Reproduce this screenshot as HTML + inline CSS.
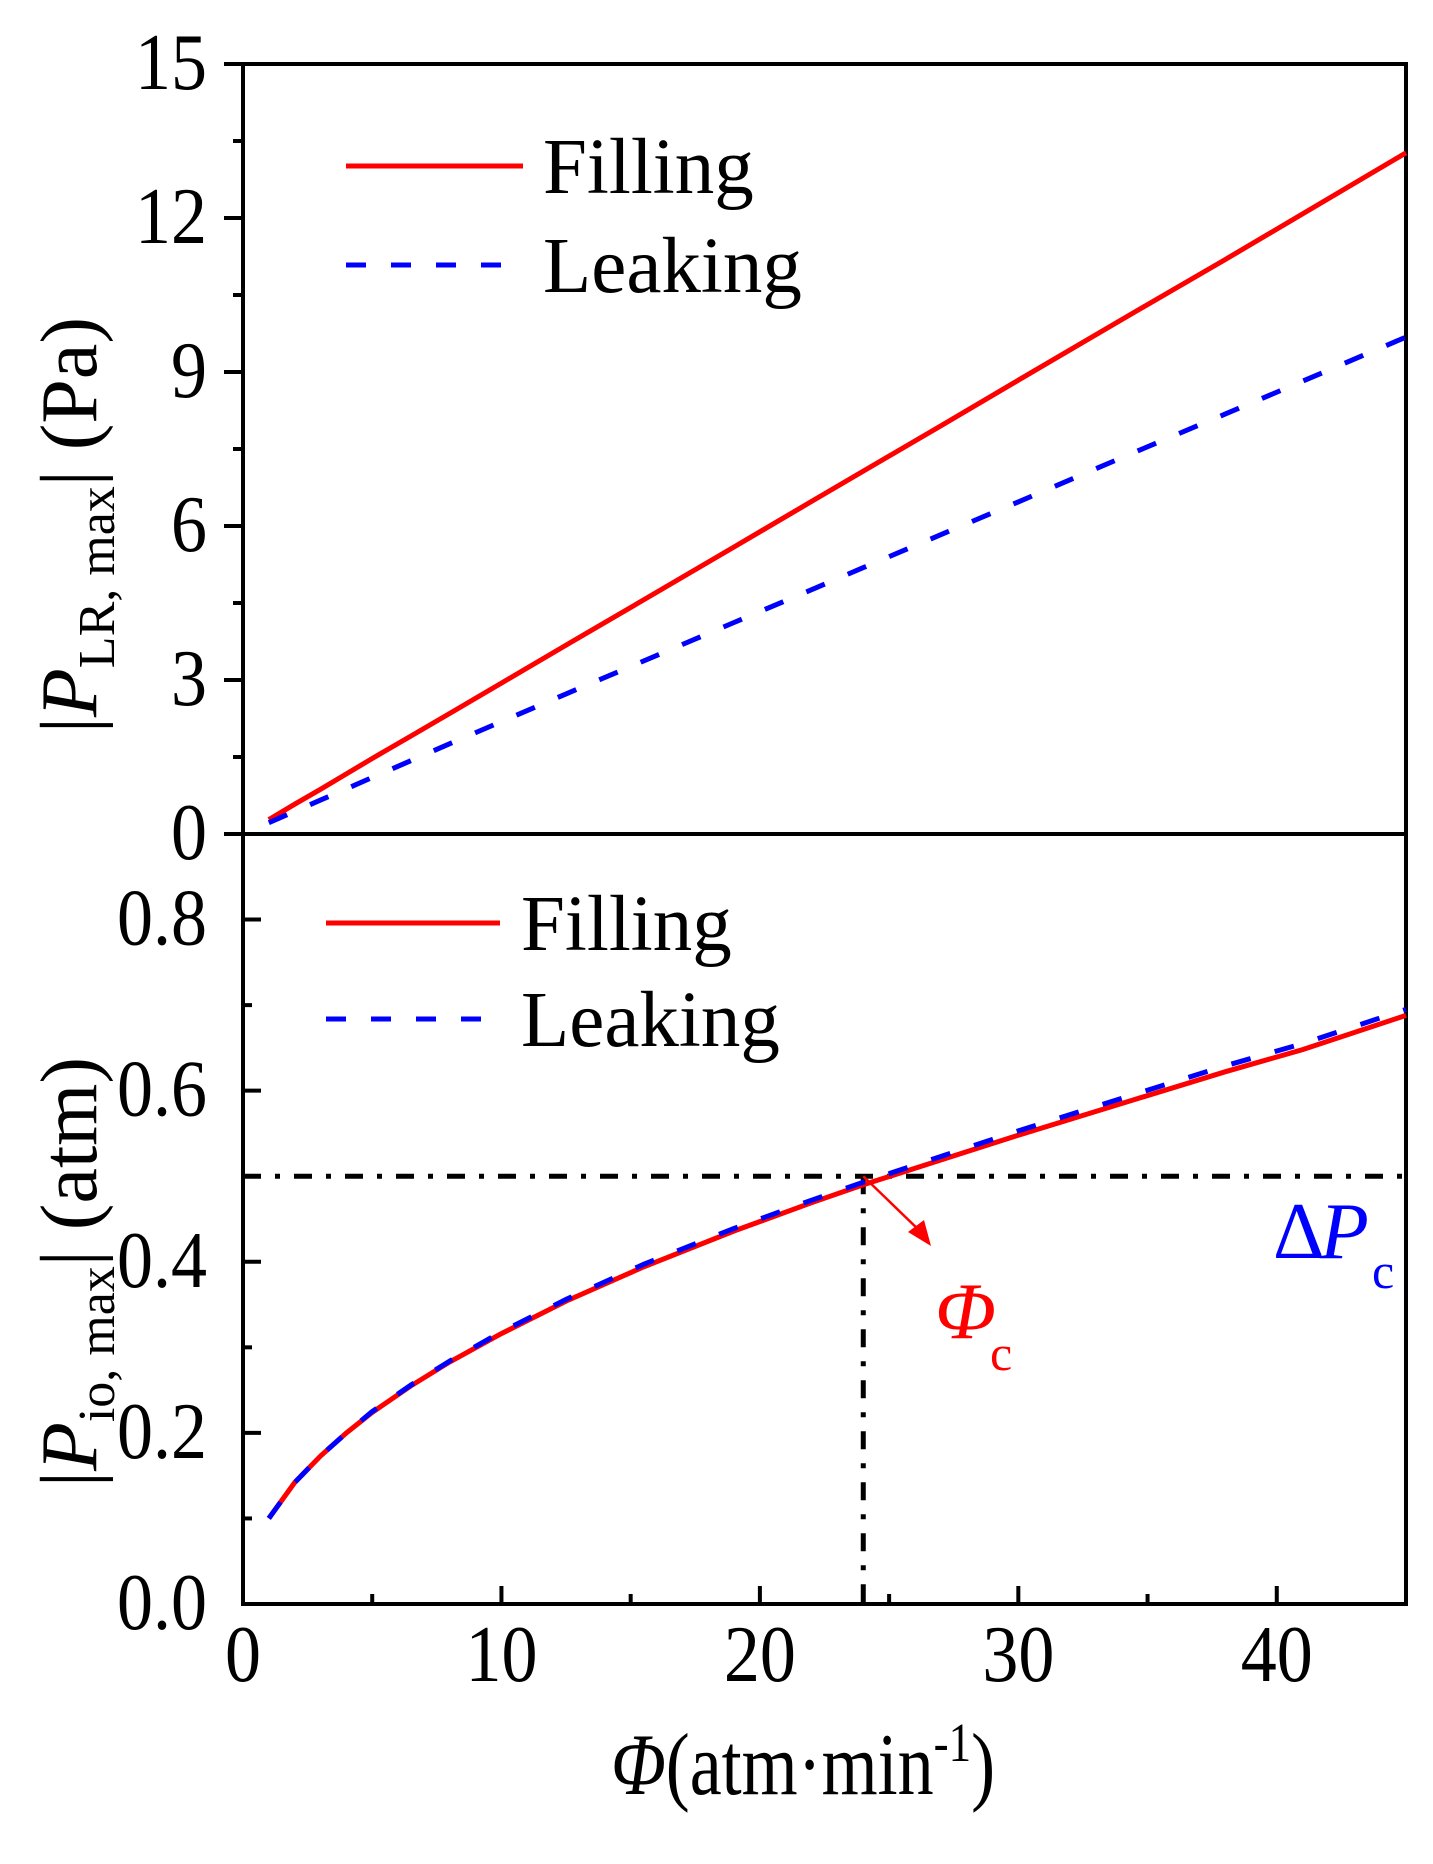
<!DOCTYPE html>
<html><head><meta charset="utf-8"><style>
html,body{margin:0;padding:0;background:#fff}
svg{display:block}
text{font-family:"Liberation Serif",serif}
</style></head><body>
<svg id="chart" width="1433" height="1864" viewBox="0 0 1433 1864" xmlns="http://www.w3.org/2000/svg">
<g id="g"></g>
</svg>
<script>
const xVals = [1, 2, 3, 4, 5, 6.5, 8, 10, 12.5, 15.5, 19, 22, 24, 27, 30, 34, 38, 41, 45];
const topFilling = [0.28, 0.58, 0.87, 1.17, 1.47, 1.91, 2.35, 2.94, 3.68, 4.56, 5.59, 6.48, 7.07, 7.95, 8.84, 10.02, 11.19, 12.08, 13.27];
const topLeaking = [0.22, 0.44, 0.66, 0.88, 1.10, 1.43, 1.76, 2.19, 2.73, 3.37, 4.12, 4.76, 5.19, 5.83, 6.47, 7.33, 8.18, 8.82, 9.68];
const botFilling = [0.10, 0.142, 0.173, 0.20, 0.224, 0.255, 0.283, 0.316, 0.354, 0.394, 0.436, 0.469, 0.49, 0.519, 0.548, 0.585, 0.622, 0.648, 0.688];
const botLeaking = [0.10, 0.142, 0.173, 0.20, 0.225, 0.256, 0.284, 0.318, 0.356, 0.397, 0.439, 0.472, 0.493, 0.523, 0.553, 0.591, 0.629, 0.655, 0.695];
const xTicks = [0, 10, 20, 30, 40];
const topYTicks = [0, 3, 6, 9, 12, 15];
const botYTicks = [0.0, 0.2, 0.4, 0.6, 0.8];
const critPhi = [24];
const critP = [0.5];

const NS = "http://www.w3.org/2000/svg";
const g = document.getElementById('g');
const L = 243, R = 1406, T = 64, M = 834, B = 1604;
const sx = v => L + (v - 0) / 45 * (R - L);
const syTop = v => M - v / 15 * (M - T);
const syBot = v => B - v / 0.9 * (B - M);

function el(tag, attrs, parent) {
  const e = document.createElementNS(NS, tag);
  for (const k in attrs) e.setAttribute(k, attrs[k]);
  (parent || g).appendChild(e);
  return e;
}
function txt(x, y, s, size, anchor, extra, parent) {
  const t = el('text', Object.assign({x: x, y: y, 'font-size': size, 'text-anchor': anchor || 'start', fill: '#000'}, extra || {}), parent);
  t.textContent = s;
  return t;
}
function pathOf(xs, ys, fx, fy) {
  return xs.map((x, i) => (i ? 'L' : 'M') + fx(x).toFixed(1) + ',' + fy(ys[i]).toFixed(1)).join(' ');
}

let e;
e = el('rect', {x: L, y: T, width: R - L, height: B - T, fill: 'none', stroke: '#000', 'stroke-width': 4});
 
e = el('line', {x1: L, y1: M, x2: R, y2: M, stroke: '#000', 'stroke-width': 4});
 

topYTicks.forEach(v => {
  const y = syTop(v);
  const t = el('line', {x1: L - 19, y1: y, x2: L, y2: y, stroke: '#000', 'stroke-width': 4});
   
  const lb = el('text', {x: 0, y: 0, 'font-size': 80, fill: '#000', 'text-anchor': 'end', transform: `translate(207,${y + 25}) scale(0.9,1)`});
  lb.textContent = String(v);
   
  if (v < 15) {
    const my = syTop(v + 1.5);
    const mt = el('line', {x1: L - 10, y1: my, x2: L, y2: my, stroke: '#000', 'stroke-width': 4});
     
  }
});
botYTicks.forEach(v => {
  const y = syBot(v);
  const t = el('line', {x1: L, y1: y, x2: L + 18, y2: y, stroke: '#000', 'stroke-width': 4});
   
  const lb = el('text', {x: 0, y: 0, 'font-size': 80, fill: '#000', 'text-anchor': 'end', transform: `translate(207,${y + 25}) scale(0.9,1)`});
  lb.textContent = v.toFixed(1);
   
  const my = syBot(v + 0.1);
  const mt = el('line', {x1: L, y1: my, x2: L + 9, y2: my, stroke: '#000', 'stroke-width': 4});
   
});
xTicks.forEach(v => {
  const x = sx(v);
  const t = el('line', {x1: x, y1: B, x2: x, y2: B - 18, stroke: '#000', 'stroke-width': 4});
   
  const lb = el('text', {x: 0, y: 0, 'font-size': 80, fill: '#000', 'text-anchor': 'middle', transform: `translate(${x},1681) scale(0.9,1)`});
  lb.textContent = String(v);
   
  const mx = sx(v + 5);
  const mt = el('line', {x1: mx, y1: B, x2: mx, y2: B - 10, stroke: '#000', 'stroke-width': 4});
   
});

e = el('path', {d: pathOf(xVals, topFilling, sx, syTop), fill: 'none', stroke: '#ff0000', 'stroke-width': 5});
 
e = el('path', {d: pathOf(xVals, topLeaking, sx, syTop), fill: 'none', stroke: '#0000ff', 'stroke-width': 5, 'stroke-dasharray': '20 25'});
 

const cy = syBot(critP[0]), cx = sx(critPhi[0]);
e = el('line', {x1: L, y1: cy, x2: R - 4, y2: cy, stroke: '#000', 'stroke-width': 5, 'stroke-dasharray': '18 14 5 14'});
 
e = el('line', {x1: cx, y1: cy, x2: cx, y2: B, stroke: '#000', 'stroke-width': 5, 'stroke-dasharray': '18 14 5 14'});
 

e = el('path', {d: pathOf(xVals, botFilling, sx, syBot), fill: 'none', stroke: '#ff0000', 'stroke-width': 5});
 
e = el('path', {d: pathOf(xVals, botLeaking, sx, syBot), fill: 'none', stroke: '#0000ff', 'stroke-width': 5, 'stroke-dasharray': '20 25'});
 

e = el('line', {x1: cx, y1: cy, x2: 922, y2: 1233, stroke: '#ff0000', 'stroke-width': 2.5});
 
e = el('polygon', {points: '931,1246 908,1232 924,1220', fill: '#ff0000'});
 

e = txt(935, 1338, 'Φ', 80, 'start', {fill: '#ff0000', 'font-style': 'italic'});
 
e = txt(990, 1370, 'c', 50, 'start', {fill: '#ff0000'});
 
e = txt(1273, 1258, 'Δ', 80, 'start', {fill: '#0000ff'});
 
e = txt(1320, 1258, 'P', 80, 'start', {fill: '#0000ff', 'font-style': 'italic'});
 
e = txt(1372, 1288, 'c', 50, 'start', {fill: '#0000ff'});
 

(function(){
  let a = el('line', {x1: 346, y1: 166, x2: 523, y2: 166, stroke: '#ff0000', 'stroke-width': 5});
   
  a = txt(543, 193, 'Filling', 79);
   
  a = el('line', {x1: 346, y1: 265, x2: 503, y2: 265, stroke: '#0000ff', 'stroke-width': 5, 'stroke-dasharray': '20 25'});
   
  a = txt(543, 292, 'Leaking', 79);
   
  a = el('line', {x1: 326, y1: 923, x2: 500, y2: 923, stroke: '#ff0000', 'stroke-width': 5});
   
  a = txt(521, 950, 'Filling', 79);
   
  a = el('line', {x1: 326, y1: 1019, x2: 483, y2: 1019, stroke: '#0000ff', 'stroke-width': 5, 'stroke-dasharray': '20 25'});
   
  a = txt(521, 1046, 'Leaking', 79);
   
})();

function ylabel(name, cyv, sub, unit) {
  const t = el('text', {x: 0, y: 0, 'font-size': 80, fill: '#000', 'text-anchor': 'middle', transform: `translate(96,${cyv}) rotate(-90)`});
   
  t.innerHTML = `|<tspan font-style="italic">P</tspan><tspan font-size="52" dy="18">${sub}</tspan><tspan dy="-18">|</tspan> (${unit})`;
}
ylabel('top-y-axis-title', 525, 'LR, max', 'Pa');
ylabel('bottom-y-axis-title', 1272, 'io, max', 'atm');
const xl = el('text', {x: 0, y: 0, 'font-size': 80, fill: '#000', 'text-anchor': 'middle', transform: 'translate(803,1794) scale(0.9,1.1)'});
 
xl.innerHTML = '<tspan font-style="italic">Φ</tspan>(atm·min<tspan font-size="50" dy="-30">-1</tspan><tspan dy="30">)</tspan>';
</script>
</body></html>
